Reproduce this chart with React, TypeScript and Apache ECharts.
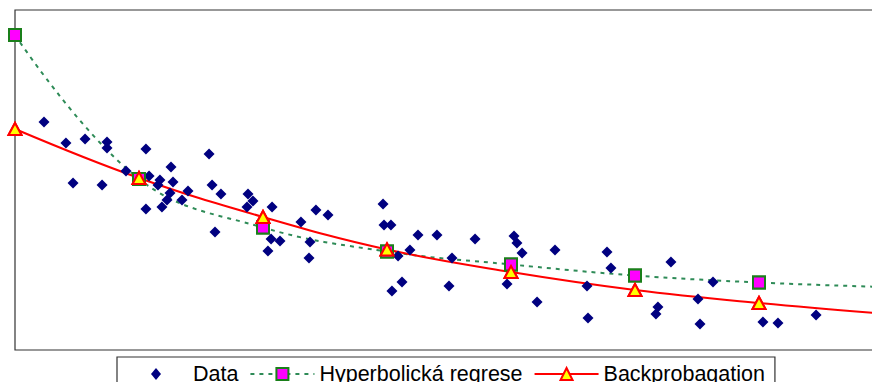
import React, { useEffect, useRef } from 'react';
import * as echarts from 'echarts';

// Scatter data (x in abstract units 0..7, y in 0..100)
const dataX = [
  0.234, 0.411, 0.565, 0.742, 0.742, 1.056, 0.468, 0.702, 0.895, 1.081,
  1.258, 1.169, 1.153, 1.274, 1.395, 1.347, 1.25, 1.226, 1.185, 1.056,
  1.565, 1.589, 1.661, 1.879, 1.919, 1.871, 2.073, 1.613, 2.065, 2.137,
  2.04, 2.306, 2.427, 2.524, 2.379, 2.371, 2.968, 2.976, 3.032, 3.25,
  3.185, 3.089, 3.121, 3.04, 3.403, 3.71, 4.024, 4.048, 4.089, 4.355,
  3.524, 3.5, 3.968, 4.21, 4.613, 4.621, 4.774, 4.806, 5.29, 5.629,
  5.185, 5.169, 5.508, 5.524, 6.032, 6.153, 6.46,
];
const dataY = [
  67.06, 60.88, 62.06, 61.18, 59.41, 59.12, 49.12, 48.53, 52.65, 51.18,
  53.82, 50.0, 48.53, 49.41, 46.76, 44.12, 46.18, 44.12, 42.06, 41.47,
  57.65, 48.53, 45.88, 45.88, 43.82, 42.06, 42.06, 34.71, 32.65, 32.06,
  29.12, 37.65, 41.18, 39.71, 31.76, 27.06, 42.94, 36.76, 36.76, 33.82,
  29.41, 27.65, 20.0, 17.35, 33.82, 32.65, 33.53, 31.47, 28.53, 29.41,
  27.06, 18.82, 19.41, 14.12, 18.82, 9.41, 28.82, 24.12, 25.88, 20.0,
  12.65, 10.59, 15.0, 7.65, 8.24, 7.94, 10.29,
];

const lineX = [0, 1, 2, 3, 4, 5, 6, 7];
const hyperY = [92.65, 50.29, 36.03, 28.97, 25.15, 21.91, 19.85, 18.53];
const backpropY = [65.0, 50.59, 39.12, 29.56, 22.94, 17.65, 13.82, 10.7];

const names = ['Data', 'Hyperbolická regrese', 'Backprobagation'];

export default function App() {
  const ref = useRef<HTMLDivElement>(null);
  useEffect(() => {
    if (!ref.current) return;
    const chart = echarts.init(ref.current, undefined, { renderer: 'svg' });
    const scatterData = dataX.map((x, i) => [x, dataY[i]]);
    const hyperData = lineX.map((x, i) => [x, hyperY[i]]);
    const bpData = lineX.map((x, i) => [x, backpropY[i]]);
    const hyperItem = { color: '#ff00ff', borderColor: '#1a7f1a', borderWidth: 2, opacity: 1 };
    const bpItem = { color: '#ffff00', borderColor: '#ff0000', borderWidth: 2, opacity: 1 };
    chart.setOption({
      animation: false,
      backgroundColor: '#ffffff',
      grid: {
        left: 15,
        top: 10,
        width: 868,
        height: 340,
        show: true,
        borderColor: '#333',
        borderWidth: 1.2,
      },
      xAxis: { type: 'value', min: 0, max: 7, show: false },
      yAxis: { type: 'value', min: 0, max: 100, show: false },
      legend: {
        data: [
          { name: names[0], icon: 'path://M-32,-7.5M32,7.5M0,-6L5,0L0,6L-5,0Z' },
          { name: names[1] },
          { name: names[2] },
        ],
        left: 117,
        top: 357,
        orient: 'horizontal',
        itemWidth: 64,
        itemHeight: 15,
        itemGap: 11,
        symbolKeepAspect: true,
        padding: [6, 10, 4, 7],
        borderColor: '#333',
        borderWidth: 1.2,
        backgroundColor: '#fff',
        textStyle: {
          fontFamily: 'Liberation Sans',
          fontSize: 21.5,
          color: '#000',
          lineHeight: 22,
        },
      },
      series: [
        {
          name: names[1],
          type: 'line',
          data: hyperData,
          smooth: 0.4,
          symbol: 'rect',
          symbolSize: 12,
          itemStyle: hyperItem,
          lineStyle: { color: '#2e8b57', width: 2, type: [4, 5] },
          z: 1,
          clip: false,
        },
        {
          name: names[2],
          type: 'line',
          data: bpData,
          smooth: 0.4,
          symbol: 'triangle',
          symbolSize: [13, 12],
          itemStyle: bpItem,
          lineStyle: { color: '#ff0000', width: 2 },
          z: 1,
          clip: false,
        },
        {
          name: names[0],
          type: 'scatter',
          data: scatterData,
          symbol: 'diamond',
          symbolSize: 11,
          itemStyle: { color: '#000080', opacity: 1 },
          z: 2,
        },
        {
          name: names[1],
          type: 'scatter',
          data: hyperData,
          symbol: 'rect',
          symbolSize: 12,
          itemStyle: hyperItem,
          z: 3,
          clip: false,
        },
        {
          name: names[2],
          type: 'scatter',
          data: bpData,
          symbol: 'triangle',
          symbolSize: [13, 12],
          itemStyle: bpItem,
          z: 3,
          clip: false,
        },
      ],
    });
    return () => chart.dispose();
  }, []);
  return (
    <div
      style={{ position: 'absolute', left: 0, top: 0, width: 872, height: 382, overflow: 'hidden' }}
    >
      <div ref={ref} style={{ width: 900, height: 382 }} />
    </div>
  );
}
